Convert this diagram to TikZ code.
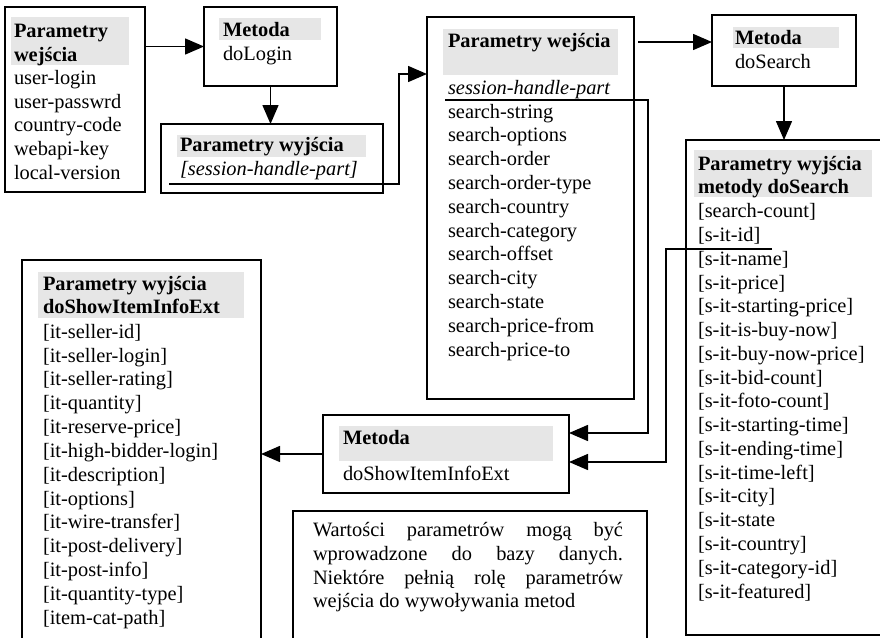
\documentclass[tikz,border=0pt]{standalone}
\usepackage{fontspec}
\setmainfont{Liberation Serif}
\usetikzlibrary{arrows.meta,calc}
\definecolor{hdrgray}{HTML}{E6E6E6}
\tikzset{
 box/.style={draw=black, line width=1.8pt, inner sep=0pt, outer sep=0pt, anchor=north west},
 hdr/.style={fill=hdrgray, draw=none, inner sep=0pt, outer sep=0pt, anchor=north west},
 txt/.style={inner sep=0pt, outer sep=0pt, anchor=base west, font=\fontsize{20.4}{24}\selectfont},
 btxt/.style={txt, font=\fontsize{20.4}{24}\selectfont\bfseries},
 itxt/.style={txt, font=\fontsize{20.4}{24}\selectfont\itshape},
 conn/.style={draw=black, line width=1.5pt},
 arr/.style={conn, -{Triangle[length=19pt,width=16pt]}},
}
\begin{document}
\begin{tikzpicture}[x=1pt,y=-1pt]
\useasboundingbox (0,0) rectangle (880,637);
\clip (0,0) rectangle (880,637);
\fill[white] (0,0) rectangle (880,637);

% ---------- Box 1: Parametry wejscia (login)
\node[hdr, minimum width=118pt, minimum height=48pt] (h1) at (11,17) {};
\node[box, minimum width=140pt, minimum height=185pt] (b1) at (5,7) {};
\node[btxt] (b1t1) at (14,37.5) {Parametry};
\node[btxt] (b1t2) at (14,61) {wejścia};
\foreach \t [count=\i] in {user-login,user-passwrd,country-code,webapi-key,local-version}
  \node[txt] (b1l\i) at (14,{84.7+23.6*(\i-1)}) {\t};

% ---------- Box 2: Metoda doLogin
\node[hdr, minimum width=102pt, minimum height=22pt] (h2) at (219,18) {};
\node[box, minimum width=133pt, minimum height=79pt] (b2) at (204,7) {};
\node[btxt] (b2t1) at (223,36.5) {Metoda};
\node[txt] (b2t2) at (223,60) {doLogin};

% ---------- Box 3: Parametry wyjscia (login)
\node[hdr, minimum width=189pt, minimum height=22pt] (h3) at (177,135) {};
\node[box, minimum width=222pt, minimum height=69pt] (b3) at (161,124) {};
\node[btxt] (b3t1) at (180,151.5) {Parametry wyjścia};
\node[itxt] (b3t2) at (180,175.5) {[session-handle-part]};

% ---------- Box 4: Parametry wejscia (search)
\node[hdr, minimum width=175pt, minimum height=46pt] (h4) at (443,29) {};
\node[box, minimum width=207pt, minimum height=382pt] (b4) at (427,17) {};
\node[btxt] (b4t1) at (448,47.5) {Parametry wejścia};
\node[itxt] (b4t2) at (448,94.3) {session-handle-part};
\foreach \t [count=\i] in {search-string,search-options,search-order,search-order-type,search-country,search-category,search-offset,search-city,search-state,search-price-from,search-price-to}
  \node[txt] (b4l\i) at (448,{118+23.8*(\i-1)}) {\t};

% ---------- Box 5: Metoda doSearch
\node[hdr, minimum width=106pt, minimum height=21pt] (h5) at (733,27) {};
\node[box, minimum width=144pt, minimum height=71pt] (b5) at (712,15) {};
\node[btxt] (b5t1) at (735,44.5) {Metoda};
\node[txt] (b5t2) at (735,68) {doSearch};

% ---------- Box 6: Parametry wyjscia metody doSearch
\node[hdr, minimum width=178pt, minimum height=47pt] (h6) at (694,150) {};
\node[box, minimum width=210pt, minimum height=495pt] (b6) at (686,140) {};
\node[btxt] (b6t1) at (698,170) {Parametry wyjścia};
\node[btxt] (b6t2) at (698,193) {metody doSearch};
\foreach \t [count=\i] in {{[search-count]},{[s-it-id]},{[s-it-name]},{[s-it-price]},{[s-it-starting-price]},{[s-it-is-buy-now]},{[s-it-buy-now-price]},{[s-it-bid-count]},{[s-it-foto-count]},{[s-it-starting-time]},{[s-it-ending-time]},{[s-it-time-left]},{[s-it-city]},{[s-it-state},{[s-it-country]},{[s-it-category-id]},{[s-it-featured]}}
  \node[txt] (b6l\i) at (698,{217.7+23.77*(\i-1)}) {\t};

% ---------- Box 7: Metoda doShowItemInfoExt
\node[hdr, minimum width=214pt, minimum height=35pt] (h7) at (339,426) {};
\node[box, minimum width=246pt, minimum height=78pt] (b7) at (323,415) {};
\node[btxt] (b7t1) at (343,444) {Metoda};
\node[txt] (b7t2) at (343,480) {doShowItemInfoExt};

% ---------- Box 8: Parametry wyjscia doShowItemInfoExt
\node[hdr, minimum width=206pt, minimum height=46pt] (h8) at (38,272) {};
\node[box, minimum width=239pt, minimum height=400pt] (b8) at (22,260) {};
\node[btxt] (b8t1) at (43,290) {Parametry wyjścia};
\node[btxt] (b8t2) at (43,313.3) {doShowItemInfoExt};
\foreach \t [count=\i] in {{[it-seller-id]},{[it-seller-login]},{[it-seller-rating]},{[it-quantity]},{[it-reserve-price]},{[it-high-bidder-login]},{[it-description]},{[it-options]},{[it-wire-transfer]},{[it-post-delivery]},{[it-post-info]},{[it-quantity-type]},{[item-cat-path]}}
  \node[txt] (b8l\i) at (43,{338.3+23.83*(\i-1)}) {\t};

% ---------- Box 9: note
\node[box, minimum width=354pt, minimum height=150pt] (b9) at (293,511) {};
\node[txt] (b9l1) at (313,536.7) {\makebox[310pt][s]{Wartości parametrów mogą być}};
\node[txt] (b9l2) at (313,560.4) {\makebox[310pt][s]{wprowadzone do bazy danych.}};
\node[txt] (b9l3) at (313,584.1) {\makebox[310pt][s]{Niektóre pełnią rolę parametrów}};
\node[txt] (b9l4) at (313,607.8) {wejścia do wywoływania metod};

% ---------- Connectors
\draw[arr] (b1.east |- b2.west) -- (b2.west);
\draw[arr] (b2.south) -- (b2.south |- b3.north);

\coordinate (c1s) at (169,184);
\coordinate (k1) at (399,74);
\draw[arr] (c1s) -| (k1) -- (k1 -| b4.west);

\coordinate (k2) at (638,42);
\draw[arr] (k2) -- (k2 -| b5.west);

\draw[arr] (b5.south) -- (b5.south |- b6.north);

\coordinate (c2s) at (445,100);
\coordinate (k3) at (648,433);
\draw[arr] (c2s) -| (k3) -- (k3 -| b7.east);

\coordinate (c3s) at (772,249);
\coordinate (k4) at (666,462);
\draw[arr] (c3s) -| (k4) -- (k4 -| b7.east);

\draw[arr] (b7.west) -- (b7.west -| b8.east);
\end{tikzpicture}
\end{document}
